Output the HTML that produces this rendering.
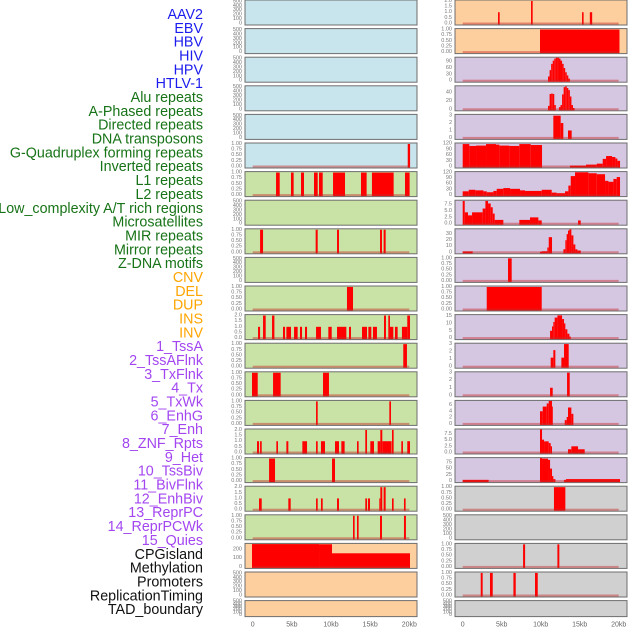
<!DOCTYPE html>
<html><head><meta charset="utf-8"><style>
html,body{margin:0;padding:0;background:#fff;width:630px;height:630px;overflow:hidden}
svg{display:block;font-family:"Liberation Sans",sans-serif}
</style></head><body>
<svg id="chart" width="630" height="630" viewBox="0 0 630 630"></svg>
<script>
// ---------- labels ----------
const labelNames = ["AAV2","EBV","HBV","HIV","HPV","HTLV-1","Alu repeats","A-Phased repeats","Directed repeats","DNA transposons","G-Quadruplex forming repeats","Inverted repeats","L1 repeats","L2 repeats","Low_complexity A/T rich regions","Microsatellites","MIR repeats","Mirror repeats","Z-DNA motifs","CNV","DEL","DUP","INS","INV","1_TssA","2_TssAFlnk","3_TxFlnk","4_Tx","5_TxWk","6_EnhG","7_Enh","8_ZNF_Rpts","9_Het","10_TssBiv","11_BivFlnk","12_EnhBiv","13_ReprPC","14_ReprPCWk","15_Quies","CPGisland","Methylation","Promoters","ReplicationTiming","TAD_boundary"];
const labelGroups = [0,0,0,0,0,0,1,1,1,1,1,1,1,1,1,1,1,1,1,2,2,2,2,2,3,3,3,3,3,3,3,3,3,3,3,3,3,3,3,4,4,4,4,4];
// ---------- tick sets ----------
const ticksEmpty = [0,100,200,300,400,500];
const ticksUnit = [0,0.25,0.5,0.75,1];
const ticksTwo = [0,0.5,1,1.5,2];
// ---------- left column data (segments: [startKb, endKb, value]) ----------
const L6 = [[19.8,20.1,1]];
const L7 = [[2.98,3.45,1],[4.89,5.23,1],[6.17,6.55,1],[7.83,8.3,1],[8.47,8.94,1],[10.26,11.79,1],[13.83,14.55,1],[15.23,18.0,1],[19.45,20.04,1]];
const L9 = [[0.94,1.32,1],[8.04,8.3,1],[10.77,11.02,1],[16.26,16.51,1],[16.72,16.98,1]];
const L11 = [[12.04,12.81,1]];
const L12 = [[0.68,0.94,1],[1.32,1.66,2],[2.47,2.77,2],[3.87,4.13,1],[4.3,4.89,1],[5.28,5.74,1],[6.04,6.3,1],[6.68,6.94,1],[8.09,8.72,1],[9.66,10.09,1],[10.77,11.96,1],[12.3,12.55,1],[13.96,14.6,1],[14.77,15.15,1],[15.36,15.87,1],[16.77,17.02,2],[17.32,17.53,2],[17.53,17.96,1],[18.17,18.51,1],[19.06,19.74,1],[19.74,20.09,2]];
const L13 = [[19.23,19.7,1]];
const L14 = [[-0.09,0.64,1],[2.6,3.57,1],[8.98,9.74,1]];
const L15 = [[8.09,8.3,1],[17.45,17.66,1]];
const L16 = [[0.55,0.81,1],[0.94,1.15,1],[3.02,3.23,1],[4.3,4.55,1],[6.34,6.94,1],[8.09,8.3,1],[8.72,9.23,1],[10.51,11.02,1],[11.32,11.74,1],[13.32,13.53,1],[14.38,14.6,2],[15.02,15.49,1],[15.96,16.3,1],[16.3,16.55,2],[16.55,17.74,1],[17.79,18.0,2],[18.98,19.19,1],[19.74,20.09,1]];
const L17 = [[2.09,2.85,1],[10.13,10.51,1]];
const L18 = [[0.81,1.15,1],[4.55,4.85,1],[8.09,8.3,1],[8.72,8.94,1],[10.77,11.02,1],[14.38,14.6,1],[14.72,14.98,1],[16.17,16.3,1],[16.3,16.55,2],[16.72,16.98,2],[17.79,18.0,1],[19.32,19.53,1]];
const L19 = [[12.81,13.02,1],[13.32,13.53,1],[16.26,16.51,1],[19.32,19.57,1]];
const L20Edges = [-0.09,8.47,10.13,20.09];
const L20Vals = [260,258,155];
// ---------- right column data ----------
const R1 = [[4.53,4.74,1],[8.76,8.97,2],[15.3,15.5,1],[16.3,16.6,1]];
const R2 = [[9.91,20.1,1]];
const R3Edges = [10.94,11.14,11.34,11.54,11.74,11.94,12.14,12.34,12.54,12.74,12.94,13.14,13.34,13.54,13.74];
const R3Vals = [20,50,80,95,105,109,109,105,95,80,60,40,25,10];
const R4Edges = [10.94,11.14,11.34,11.54,11.74,11.94,12.14,12.34,12.54,12.74,12.94,13.14,13.34,13.54,13.74,13.94,14.14,14.34];
const R4Vals = [8,36,37,36,10,0,0,5,10,35,52,54,50,45,30,10,3];
const R5 = [[11.62,12.56,3],[12.56,12.9,2],[13.5,13.97,1]];
const R6 = [[0,0.85,118],[0.85,1.71,108],[1.71,2.99,110],[2.99,4.27,118],[4.27,4.7,115],[4.7,5.98,110],[5.98,7.26,108],[7.26,8.72,118],[8.72,10.17,113],[13.76,15.81,5],[15.81,17.18,10],[17.18,17.95,15],[17.95,18.38,40],[18.38,19.15,55],[19.15,19.57,50],[19.57,19.83,42],[19.83,20.17,30]];
const R7Edges = [0,0.77,1.62,2.65,3.08,3.93,4.36,5.21,6.07,7.35,7.99,10.13,11.41,12.05,13.12,13.55,13.85,14.4,16.11,17.18,18.25,18.68,19.32,19.74,20.17];
const R7Vals = [20,28,25,20,15,22,33,37,33,25,22,28,13,10,20,50,100,120,115,110,75,70,85,95];
const R8Edges = [0,0.26,0.68,1.2,2.56,2.91,3.25,3.59,3.85,4.1,5.21,7.26,8.63,9.7,10.13,14.79,15.13];
const R8Vals = [9,4.5,3.3,4.5,6,9,8,6.5,4,1.5,0,1.5,2.5,1.3,0,1.3];
const R9Edges = [0,1.28,9.91,10.17,10.85,11.03,11.45,12.91,13.16,13.33,13.5,13.68,13.93,14.19,14.44,14.7,15.13];
const R9Vals = [1.5,0,1,1.7,8,25,0,5,20,30,36,38,28,13,5,3];
const R10 = [[5.81,6.28,1]];
const R11 = [[3.08,10.13,1]];
const R12Edges = [11.2,11.45,11.62,11.79,12.14,12.74,12.99,13.16,13.42,13.68,13.85];
const R12Vals = [5,8,11,14,15.5,13,10,6,3,1];
const R13Edges = [11.28,11.62,11.88,12.65,12.99,13.59];
const R13Vals = [1.2,2.2,0,1.2,3];
const R14 = [[11.2,11.54,1],[13.38,13.72,3]];
const R15Edges = [9.91,10.26,10.77,11.03,11.45,11.54,13.08,13.33,13.5,13.93,14.19];
const R15Vals = [4,5.5,6.5,7.3,5.5,0,1.2,2.2,5.2,3.2];
const R16Edges = [9.91,10.17,10.43,11.03,11.28,11.45,13.5,13.93,14.79,15.64];
const R16Vals = [9.3,5.2,4.5,3.8,2.5,0,1.3,2.5,1.3];
const R17Edges = [0,3.33,9.91,10.17,10.94,11.2,11.45,11.62,11.88,12.99,13.25,20.17];
const R17Vals = [5,0,92,90,85,50,20,8,0,5,8];
const R18 = [[11.7,13.16,1]];
const R20 = [[7.74,8.0,1],[12.14,12.39,1]];
const R21 = [[2.31,2.56,1],[3.5,3.85,1],[6.5,6.8,1],[9.27,9.62,1]];
const xTickVals = [0,5,10,15,20];
const xTickLabels = ["0","5kb","10kb","15kb","20kb"];

function stepsToSegs(edges, vals){
  const out=[];
  for(let i=0;i<vals.length;i++) if(vals[i]>0) out.push([edges[i],edges[i+1],vals[i]]);
  return out;
}
const BLUE="#c8e4ec",GREEN="#c9e2a5",PEACH="#fecf9e",PURPLE="#d5c6e2",GRAY="#d0d0d0";
function P(bg,segs,ymax,ticks,fmt){return {bg,segs,ymax,ticks,fmt};}
const E = t=>P(t,null,520,ticksEmpty,0);
const leftPanels = [
  E(BLUE),E(BLUE),E(BLUE),E(BLUE),E(BLUE),
  P(BLUE,L6,1.02,ticksUnit,2),
  P(GREEN,L7,1.02,ticksUnit,2),
  E(GREEN),
  P(GREEN,L9,1.02,ticksUnit,2),
  E(GREEN),
  P(GREEN,L11,1.02,ticksUnit,2),
  P(GREEN,L12,2.04,ticksTwo,1),
  P(GREEN,L13,1.02,ticksUnit,2),
  P(GREEN,L14,1.02,ticksUnit,2),
  P(GREEN,L15,1.02,ticksUnit,2),
  P(GREEN,L16,2.04,ticksTwo,1),
  P(GREEN,L17,1.02,ticksUnit,2),
  P(GREEN,L18,2.04,ticksTwo,1),
  P(GREEN,L19,1.02,ticksUnit,2),
  P(PEACH,stepsToSegs(L20Edges,L20Vals),262,[0,100,200],0),
  E(PEACH),E(PEACH)
];
const rightPanels = [
  P(PEACH,R1,2.04,ticksTwo,1),
  P(PEACH,R2,1.02,ticksUnit,2),
  P(PURPLE,stepsToSegs(R3Edges,R3Vals),109,[0,30,60,90],0),
  P(PURPLE,stepsToSegs(R4Edges,R4Vals),54,[0,20,40],0),
  P(PURPLE,R5,3.1,[0,1,2,3],0),
  P(PURPLE,R6,121,[0,30,60,90,120],0),
  P(PURPLE,stepsToSegs(R7Edges,R7Vals),121,[0,30,60,90,120],0),
  P(PURPLE,stepsToSegs(R8Edges,R8Vals),9.1,[0,2.5,5,7.5],1),
  P(PURPLE,stepsToSegs(R9Edges,R9Vals),38,[0,10,20,30],0),
  P(PURPLE,R10,1.02,ticksUnit,2),
  P(PURPLE,R11,1.02,ticksUnit,2),
  P(PURPLE,stepsToSegs(R12Edges,R12Vals),15.7,[0,5,10,15],0),
  P(PURPLE,stepsToSegs(R13Edges,R13Vals),3.05,[0,1,2,3],0),
  P(PURPLE,R14,3.05,[0,1,2,3],0),
  P(PURPLE,stepsToSegs(R15Edges,R15Vals),7.3,[0,2,4,6],0),
  P(PURPLE,stepsToSegs(R16Edges,R16Vals),9.3,[0,2.5,5,7.5],1),
  P(PURPLE,stepsToSegs(R17Edges,R17Vals),92,[0,25,50,75],0),
  P(GRAY,R18,1.02,ticksUnit,2),
  E(GRAY),
  P(GRAY,R20,1.02,ticksUnit,2),
  P(GRAY,R21,1.02,ticksUnit,2),
  E(GRAY)
];

const NS="http://www.w3.org/2000/svg";
const svg=document.getElementById("chart");
function mk(tag,attrs,parent){const e=document.createElementNS(NS,tag);for(const k in attrs)e.setAttribute(k,attrs[k]);(parent||svg).appendChild(e);return e;}

// labels
const labelColors=["#1c1cee","#177317","#ffa500","#a346f0","#111111"];
labelNames.forEach((n,i)=>{
  const t=mk("text",{x:203,y:15+i*13.84,"text-anchor":"end","dominant-baseline":"central","font-size":"14.3",fill:labelColors[labelGroups[i]]});
  t.textContent=n;
  
  
});

const cols=[{x0:245,x1:417,k0:252.7,k1:409.3,panels:leftPanels,name:'left'},{x0:455,x1:627,k0:462.7,k1:618.7,panels:rightPanels,name:'right'}];
cols.forEach(col=>{
  const xs=kb=>col.k0+(col.k1-col.k0)*kb/20;
  col.panels.forEach((p,i)=>{
    const top=i*28.6, h=(i===21)?16:25, bottom=top+h;
    const g=mk("g",{});
    
    
    mk("rect",{x:col.x0,y:top,width:col.x1-col.x0,height:h,fill:p.bg,stroke:"#6e6e6e","stroke-width":1},g);
    const y0=bottom-1.5, ys=v=>y0-(y0-top-0.5)*v/p.ymax;
    p.ticks.forEach(t=>{
      const tt=mk("text",{x:col.x0-3,y:ys(t),"text-anchor":"end","dominant-baseline":"central","font-size":"5.5",fill:"#777"},g);
      tt.textContent=p.fmt?t.toFixed(p.fmt):String(t);
      
      
    });
    if(p.segs){
      p.segs.forEach(s=>{
        const xa=Math.max(col.x0+0.5,xs(s[0])), xb=Math.min(col.x1-0.5,xs(s[1]));
        const r=mk("rect",{x:xa,y:ys(s[2]),width:Math.max(0.8,xb-xa),height:bottom-0.5-ys(s[2]),fill:"#ff0000"},g);
        
        
      });
      const bl=mk("rect",{x:xs(0),y:y0-1,width:xs(20)-xs(0),height:2,fill:"rgba(200,40,40,0.45)"},g);
      
      
    }
  });
  xTickVals.forEach((v,j)=>{
    const t=mk("text",{x:xs(v),y:625,"text-anchor":"middle","dominant-baseline":"central","font-size":"7",fill:"#666"});
    t.textContent=xTickLabels[j];
    
    
  });
});
</script>
</body></html>
